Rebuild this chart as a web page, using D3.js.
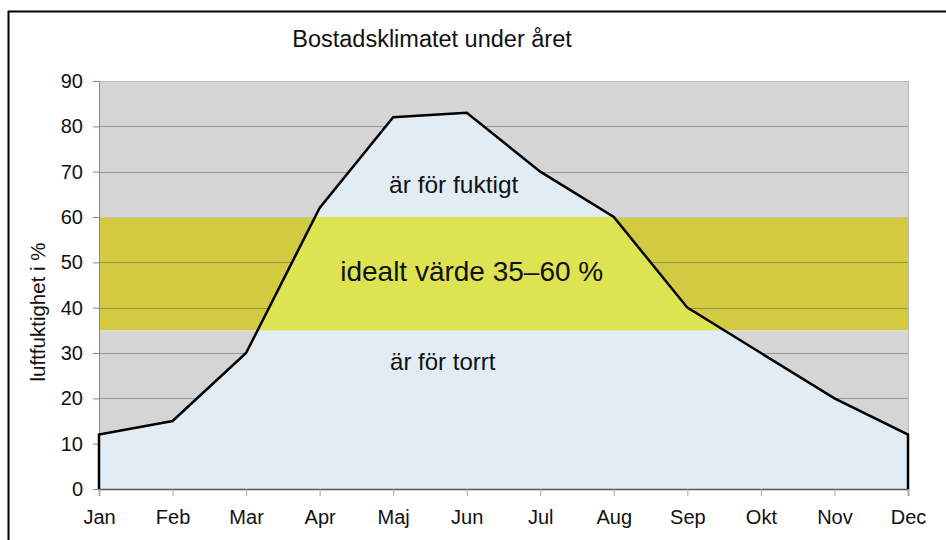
<!DOCTYPE html>
<html><head><meta charset="utf-8">
<script src="https://cdn.jsdelivr.net/npm/d3@7"></script>
<style>body{margin:0;background:#fff}svg{display:block}</style>
</head><body>
<script>
const months = ["Jan","Feb","Mar","Apr","Maj","Jun","Jul","Aug","Sep","Okt","Nov","Dec"];
const humidity = [12,15,30,62,82,83,70,60,40,30,20,12];
const yTicks = [0,10,20,30,40,50,60,70,80,90];
const idealBand = [35,60];
const title = "Bostadsklimatet under året";
const yLabel = "luftfuktighet i %";
const bandLabels = [
  {text:"är för fuktigt", value:65.3, size:24.5, dx:-13},
  {text:"idealt värde 35–60 %", value:45.8, size:28, dx:5},
  {text:"är för torrt", value:26.3, size:24, dx:-24}
];

const W=946,H=540;
const svg=d3.select("body").append("svg").attr("width",W).attr("height",H);
const x=d3.scalePoint().domain(months).range([99,908]);
const y=d3.scaleLinear().domain([0,90]).range([489,81]);
const FONT="'Liberation Sans', Arial, Helvetica, sans-serif";

// outer frame
svg.append("rect").attr("x",8.5).attr("y",11.5).attr("width",960).attr("height",560)
  .attr("fill","none").attr("stroke","#000").attr("stroke-width",2);

const x0=x(months[0]), x1=x(months[months.length-1]);
// background
svg.append("rect").attr("x",x0).attr("y",y(90)).attr("width",x1-x0).attr("height",y(0)-y(90)).attr("fill","#d5d5d5");
svg.append("rect").attr("x",x0).attr("y",y(idealBand[1])).attr("width",x1-x0).attr("height",y(idealBand[0])-y(idealBand[1])).attr("fill","#d2cb41");
svg.append("line").attr("x1",x0).attr("x2",x1).attr("y1",y(idealBand[1])+0.5).attr("y2",y(idealBand[1])+0.5).attr("stroke","#c4c4b0").attr("stroke-width",1);
svg.append("line").attr("x1",x0).attr("x2",x1).attr("y1",y(idealBand[0])+0.5).attr("y2",y(idealBand[0])+0.5).attr("stroke","#e6e8c0").attr("stroke-width",1);

// gridlines
svg.append("g").selectAll("line").data(yTicks.filter(d=>d>0&&d<90&&d!==60)).join("line")
  .attr("x1",x0).attr("x2",x1).attr("y1",d=>Math.round(y(d))+0.5).attr("y2",d=>Math.round(y(d))+0.5)
  .attr("stroke","rgba(70,70,70,0.42)").attr("stroke-width",1);

// area
const data=months.map((m,i)=>({m,v:humidity[i]}));
const area=d3.area().x(d=>x(d.m)).y0(y(0)).y1(d=>y(d.v));
svg.append("defs").append("clipPath").attr("id","areaClip").append("path").attr("d",area(data));
svg.append("path").attr("d",area(data)).attr("fill","#e2ecf5");
svg.append("rect").attr("clip-path","url(#areaClip)").attr("x",x0).attr("y",y(idealBand[1])).attr("width",x1-x0).attr("height",y(idealBand[0])-y(idealBand[1])).attr("fill","#dde351");

// plot border lines
svg.append("line").attr("x1",x1+0.5).attr("x2",x1+0.5).attr("y1",y(90)).attr("y2",y(0)).attr("stroke","#b8b8b8");
svg.append("line").attr("x1",x0).attr("x2",x1).attr("y1",y(90)+0.5).attr("y2",y(90)+0.5).attr("stroke","#b8b8b8");

// axes
const yAxis=svg.append("g").attr("transform",`translate(${x0},0)`).call(d3.axisLeft(y).tickValues(yTicks).tickSize(6).tickPadding(10));
yAxis.select(".domain").attr("stroke","#888");
yAxis.selectAll(".tick line").attr("stroke","#888");
yAxis.selectAll("text").attr("font-family",FONT).attr("font-size",20).attr("fill","#111");
const xAxis=svg.append("g").attr("transform",`translate(0,${y(0)})`).call(d3.axisBottom(x).tickSize(7).tickPadding(14));
xAxis.select(".domain").attr("stroke","#555").attr("stroke-width",1.5);
xAxis.selectAll(".tick line").attr("stroke","#aaa");
xAxis.selectAll("text").attr("font-family",FONT).attr("font-size",20).attr("fill","#111");

// data line with vertical edges
const edge=[{m:months[0],v:0},...data,{m:months[months.length-1],v:0}];
svg.append("path").attr("d",d3.line().x(d=>x(d.m)).y(d=>y(d.v))(edge))
  .attr("fill","none").attr("stroke","#000").attr("stroke-width",2.5).attr("stroke-linejoin","miter");

// labels
svg.append("text").attr("x",432).attr("y",46.5).attr("text-anchor","middle").attr("font-family",FONT).attr("font-size",23.5).attr("fill","#111").text(title);
svg.append("text").attr("transform",`translate(45,312) rotate(-90)`).attr("text-anchor","middle").attr("font-family",FONT).attr("font-size",20.5).attr("fill","#111").text(yLabel);
bandLabels.forEach(b=>{
  svg.append("text").attr("x",x("Jun")+b.dx).attr("y",y(b.value)).attr("text-anchor","middle")
    .attr("font-family",FONT).attr("font-size",b.size).attr("fill","#111").text(b.text);
});
</script>
</body></html>
